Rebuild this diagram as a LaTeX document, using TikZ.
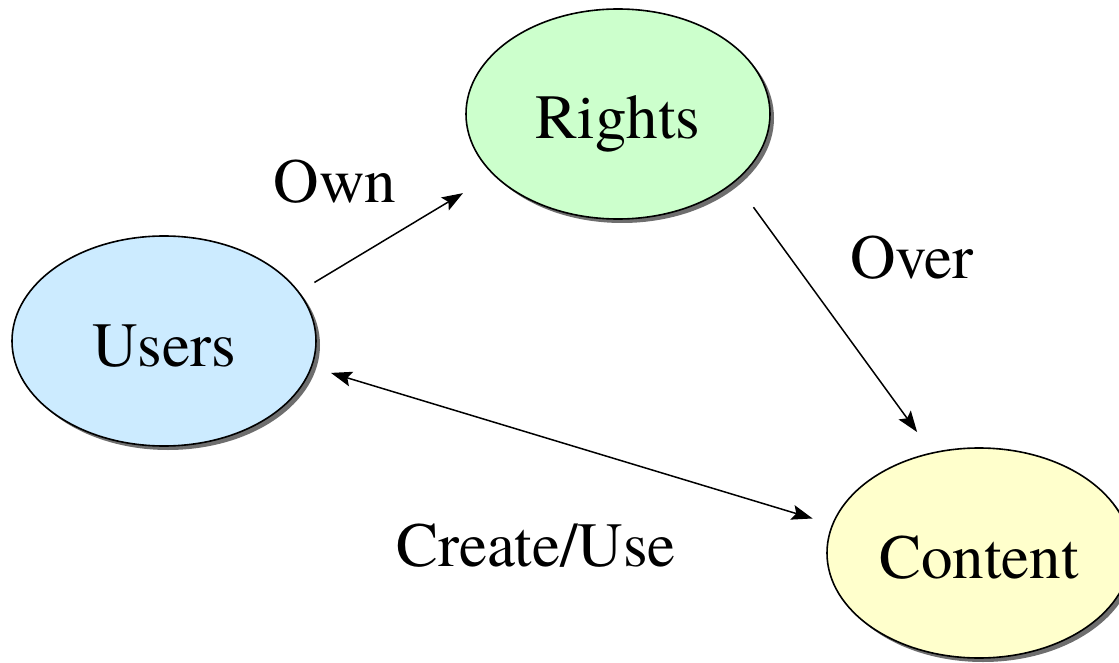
\documentclass[tikz,border=0pt]{standalone}
\usepackage{fontspec}
\setmainfont{TeX Gyre Termes}
\usetikzlibrary{shapes.geometric,shadows,arrows.meta}
\definecolor{usersfill}{RGB}{204,235,255}
\definecolor{rightsfill}{RGB}{204,255,204}
\definecolor{contentfill}{RGB}{255,255,204}
\definecolor{shadowgray}{RGB}{110,110,110}
\begin{document}
\begin{tikzpicture}[x=1pt,y=-1pt,
  bigtext/.style={font=\rmfamily\fontsize{63}{70}\selectfont},
  entity/.style={ellipse,draw=black,line width=1.6pt,bigtext,
    minimum width=304pt,minimum height=210pt,inner sep=0pt,outer sep=0pt,
    text height=50pt,text depth=0pt,
    drop shadow={shadow xshift=4pt,shadow yshift=-4pt,fill=shadowgray,opacity=1}},
  rel/.style={bigtext,inner sep=0pt,anchor=base},
  link/.style={line width=1.5pt,-{Stealth[length=21pt,width=15pt,inset=4pt]}},
  biglink/.style={line width=1.5pt,{Stealth[length=21pt,width=15pt,inset=4pt]}-{Stealth[length=21pt,width=15pt,inset=4pt]}}]
  \clip (0,0) rectangle (1119,663);
  \useasboundingbox (0,0) rectangle (1119,663);

  % entities
  \node[entity,fill=usersfill]   (users)   at (164,341) {Users};
  \node[entity,fill=rightsfill]  (rights)  at (618,114) {Rights};
  \node[entity,fill=contentfill] (content) at (979,553) {Content};

  % relation labels
  \node[rel] (own)    at (335,203) {Own};
  \node[rel] (over)   at (912,278) {Over};
  \node[rel] (create) at (536,566) {Create/Use};

  % relations
  \draw[link,shorten <=18.6pt,shorten >=36pt] (users.20.3) -- (rights.206);
  \draw[link,shorten <=32pt,shorten >=26pt] (rights.330) -- (content.115);
  \draw[biglink,shorten <=20.6pt,shorten >=21pt] (users.350) -- (content.169.7);
\end{tikzpicture}
\end{document}
